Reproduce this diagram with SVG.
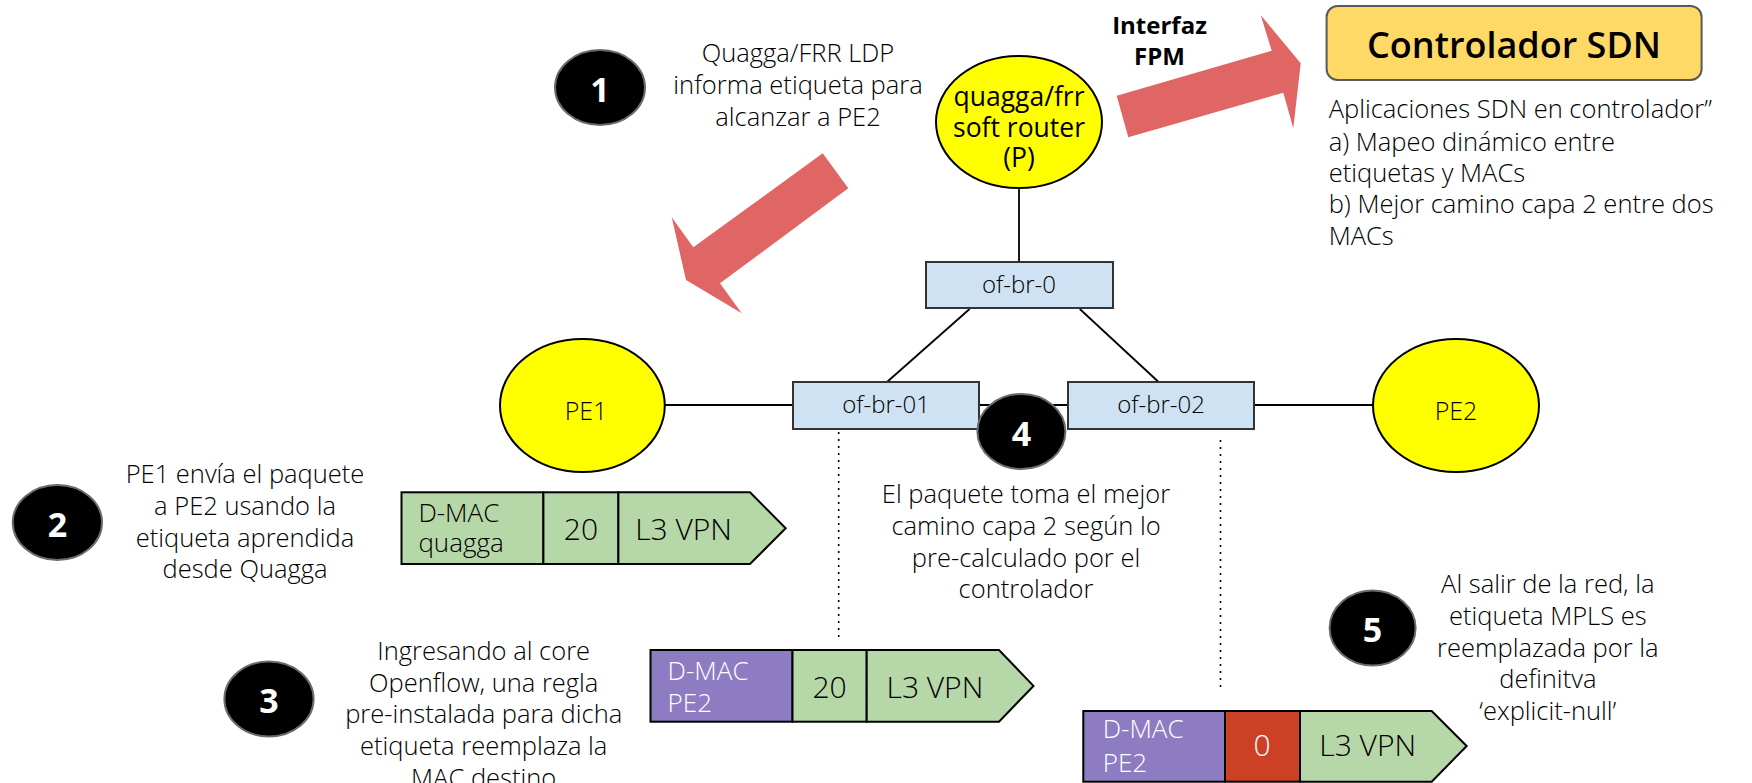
<svg xmlns="http://www.w3.org/2000/svg" width="1752" height="783" viewBox="0 0 1752 783">
<style>
text{font-family:"Open Sans","Liberation Sans",sans-serif;fill:#000;font-weight:300}
.body{font-size:25.5px;text-anchor:middle}
.left{font-size:25.5px;text-anchor:start}
.num{font-size:34px;font-weight:700;fill:#fff;text-anchor:middle}
.badge{fill:#000;stroke:#6b6b6b;stroke-width:2}
.node{fill:#ffff00;stroke:#000;stroke-width:2}
.sw{fill:#cfe2f3;stroke:#333;stroke-width:2}
.swt{font-size:24px;text-anchor:middle}
.nt{font-size:26.5px;text-anchor:middle;font-weight:400}
.link{stroke:#000;stroke-width:1.8;fill:none}
.dot{stroke:#000;stroke-width:1.6;stroke-dasharray:2 5;fill:none}
.arrow{fill:#e06666}
.g{fill:#b6d7a8;stroke:#000;stroke-width:2}
.p{fill:#8e7cc3;stroke:#000;stroke-width:2}
.r{fill:#cc4125;stroke:#000;stroke-width:2}
.pk{font-size:26px}
.pkw{font-size:26px;fill:#fff}
.big{font-size:30px;text-anchor:middle}
.bigl{font-size:30px}
</style>

<g id="connectors">
<line class="link" x1="1019" y1="188" x2="1019" y2="262"/>
<line class="link" x1="969.6" y1="309" x2="887" y2="382"/>
<line class="link" x1="1079.8" y1="309" x2="1158.6" y2="382"/>
<line class="link" x1="665" y1="405" x2="793" y2="405"/>
<line class="link" x1="979" y1="405" x2="1068" y2="405"/>
<line class="link" x1="1254" y1="405" x2="1373" y2="405"/>
<line class="dot" x1="838.7" y1="432" x2="838.7" y2="642"/>
<line class="dot" x1="1220.5" y1="440" x2="1220.5" y2="689"/>
</g>

<g id="arrow-ldp">
<polygon class="arrow" points="822.7,153.3 848.3,188.3 720,283.3 741.7,313.3 686,280 671.7,217.3 693.3,247.3"/>
</g>
<g id="arrow-fpm">
<polygon class="arrow" points="1128.3,137.3 1116.7,95.7 1271.7,50.7 1260.7,15 1300.7,63.3 1293.3,128.3 1283.3,92.7"/>
</g>

<g id="step1">
<ellipse class="badge" cx="600" cy="87.5" rx="45" ry="37.5"/>
<text class="num" x="600" y="101.5">1</text>
<text class="body" x="798" y="61.7">Quagga/FRR LDP</text>
<text class="body" x="798" y="94">informa etiqueta para</text>
<text class="body" x="798" y="125.5">alcanzar a PE2</text>
</g>

<g id="quagga">
<ellipse class="node" cx="1019" cy="122" rx="83" ry="66"/>
<text class="nt" x="1019" y="106">quagga/frr</text>
<text class="nt" x="1019" y="137.3">soft router</text>
<text class="nt" x="1019" y="167">(P)</text>
</g>

<g id="fpm-label">
<text x="1159.5" y="34" style="font-size:24px;font-weight:700;text-anchor:middle">Interfaz</text>
<text x="1159.5" y="65" style="font-size:24px;font-weight:700;text-anchor:middle">FPM</text>
</g>

<g id="controller">
<rect x="1326.6" y="6" width="375" height="74" rx="11" ry="11" fill="#ffd966" stroke="#595959" stroke-width="2"/>
<text x="1514" y="58.3" style="font-size:36px;font-weight:600;text-anchor:middle">Controlador SDN</text>
<text class="left" x="1328.7" y="118.3">Aplicaciones SDN en controlador”</text>
<text class="left" x="1328.7" y="150.5">a) Mapeo dinámico entre</text>
<text class="left" x="1328.7" y="181.7">etiquetas y MACs</text>
<text class="left" x="1328.7" y="213.3">b) Mejor camino capa 2 entre dos</text>
<text class="left" x="1328.7" y="245">MACs</text>
</g>

<g id="of-br-0">
<rect class="sw" x="926" y="262" width="187" height="46"/>
<text class="swt" x="1019" y="293">of-br-0</text>
</g>
<g id="of-br-01">
<rect class="sw" x="793" y="382" width="186" height="47"/>
<text class="swt" x="886" y="413.3">of-br-01</text>
</g>
<g id="of-br-02">
<rect class="sw" x="1068" y="382" width="186" height="47"/>
<text class="swt" x="1161" y="413.3">of-br-02</text>
</g>

<g id="PE1">
<ellipse class="node" cx="582.4" cy="405.5" rx="82.4" ry="66.5"/>
<text x="586" y="420" style="font-size:25px;text-anchor:middle">PE1</text>
</g>
<g id="PE2">
<ellipse class="node" cx="1456" cy="405.5" rx="83" ry="66.5"/>
<text x="1456" y="420" style="font-size:25px;text-anchor:middle">PE2</text>
</g>

<g id="step4">
<ellipse class="badge" cx="1021.4" cy="431.5" rx="44" ry="37.5"/>
<text class="num" x="1021.4" y="445.5">4</text>
<text class="body" x="1026" y="503.3">El paquete toma el mejor</text>
<text class="body" x="1026" y="535">camino capa 2 según lo</text>
<text class="body" x="1026" y="566.7">pre-calculado por el</text>
<text class="body" x="1026" y="598.3">controlador</text>
</g>

<g id="step2">
<ellipse class="badge" cx="57.4" cy="522.5" rx="44.6" ry="37.5"/>
<text class="num" x="57.4" y="536.5">2</text>
<text class="body" x="245" y="483.3">PE1 envía el paquete</text>
<text class="body" x="245" y="515">a PE2 usando la</text>
<text class="body" x="245" y="546.7">etiqueta aprendida</text>
<text class="body" x="245" y="578.3">desde Quagga</text>
</g>

<g id="packet1">
<rect class="g" x="401.5" y="492.3" width="141.9" height="71.7"/>
<rect class="g" x="543.4" y="492.3" width="75" height="71.7"/>
<polygon class="g" points="618.4,492.3 750,492.3 785.7,528.2 750,564 618.4,564"/>
<text class="pk" x="418.4" y="521.7">D-MAC</text>
<text class="pk" x="418.4" y="551.7">quagga</text>
<text class="big" x="580.9" y="540">20</text>
<text class="bigl" x="635.2" y="540">L3 VPN</text>
</g>

<g id="step3">
<ellipse class="badge" cx="269" cy="699" rx="44.6" ry="37.5"/>
<text class="num" x="269" y="713">3</text>
<text class="body" x="483.7" y="660">Ingresando al core</text>
<text class="body" x="483.7" y="691.7">Openflow, una regla</text>
<text class="body" x="483.7" y="723.3">pre-instalada para dicha</text>
<text class="body" x="483.7" y="755">etiqueta reemplaza la</text>
<text class="body" x="483.7" y="786.7">MAC destino</text>
</g>

<g id="packet2">
<rect class="p" x="650.5" y="650" width="142" height="71.7"/>
<rect class="g" x="792.5" y="650" width="74.2" height="71.7"/>
<polygon class="g" points="866.7,650 999,650 1033.5,685.9 999,721.7 866.7,721.7"/>
<text class="pkw" x="667.6" y="680">D-MAC</text>
<text class="pkw" x="667.6" y="711.7">PE2</text>
<text class="big" x="829.6" y="698.3">20</text>
<text class="bigl" x="886.5" y="698.3">L3 VPN</text>
</g>

<g id="step5">
<ellipse class="badge" cx="1372.6" cy="628" rx="43" ry="37.5"/>
<text class="num" x="1372.6" y="642">5</text>
<text class="body" x="1547.8" y="593.3">Al salir de la red, la</text>
<text class="body" x="1547.8" y="625">etiqueta MPLS es</text>
<text class="body" x="1547.8" y="656.7">reemplazada por la</text>
<text class="body" x="1547.8" y="688.3">definitva</text>
<text class="body" x="1547.8" y="720">‘explicit-null’</text>
</g>

<g id="packet3">
<rect class="p" x="1083.3" y="711" width="141.7" height="70.7"/>
<rect class="r" x="1225" y="711" width="75" height="70.7"/>
<polygon class="g" points="1300,711 1431.7,711 1466.7,746 1431.7,781.7 1300,781.7"/>
<text class="pkw" x="1102.7" y="738.3">D-MAC</text>
<text class="pkw" x="1102.7" y="771.7">PE2</text>
<text class="big" x="1262" y="756" style="fill:#fff">0</text>
<text class="bigl" x="1319.3" y="756">L3 VPN</text>
</g>
</svg>
